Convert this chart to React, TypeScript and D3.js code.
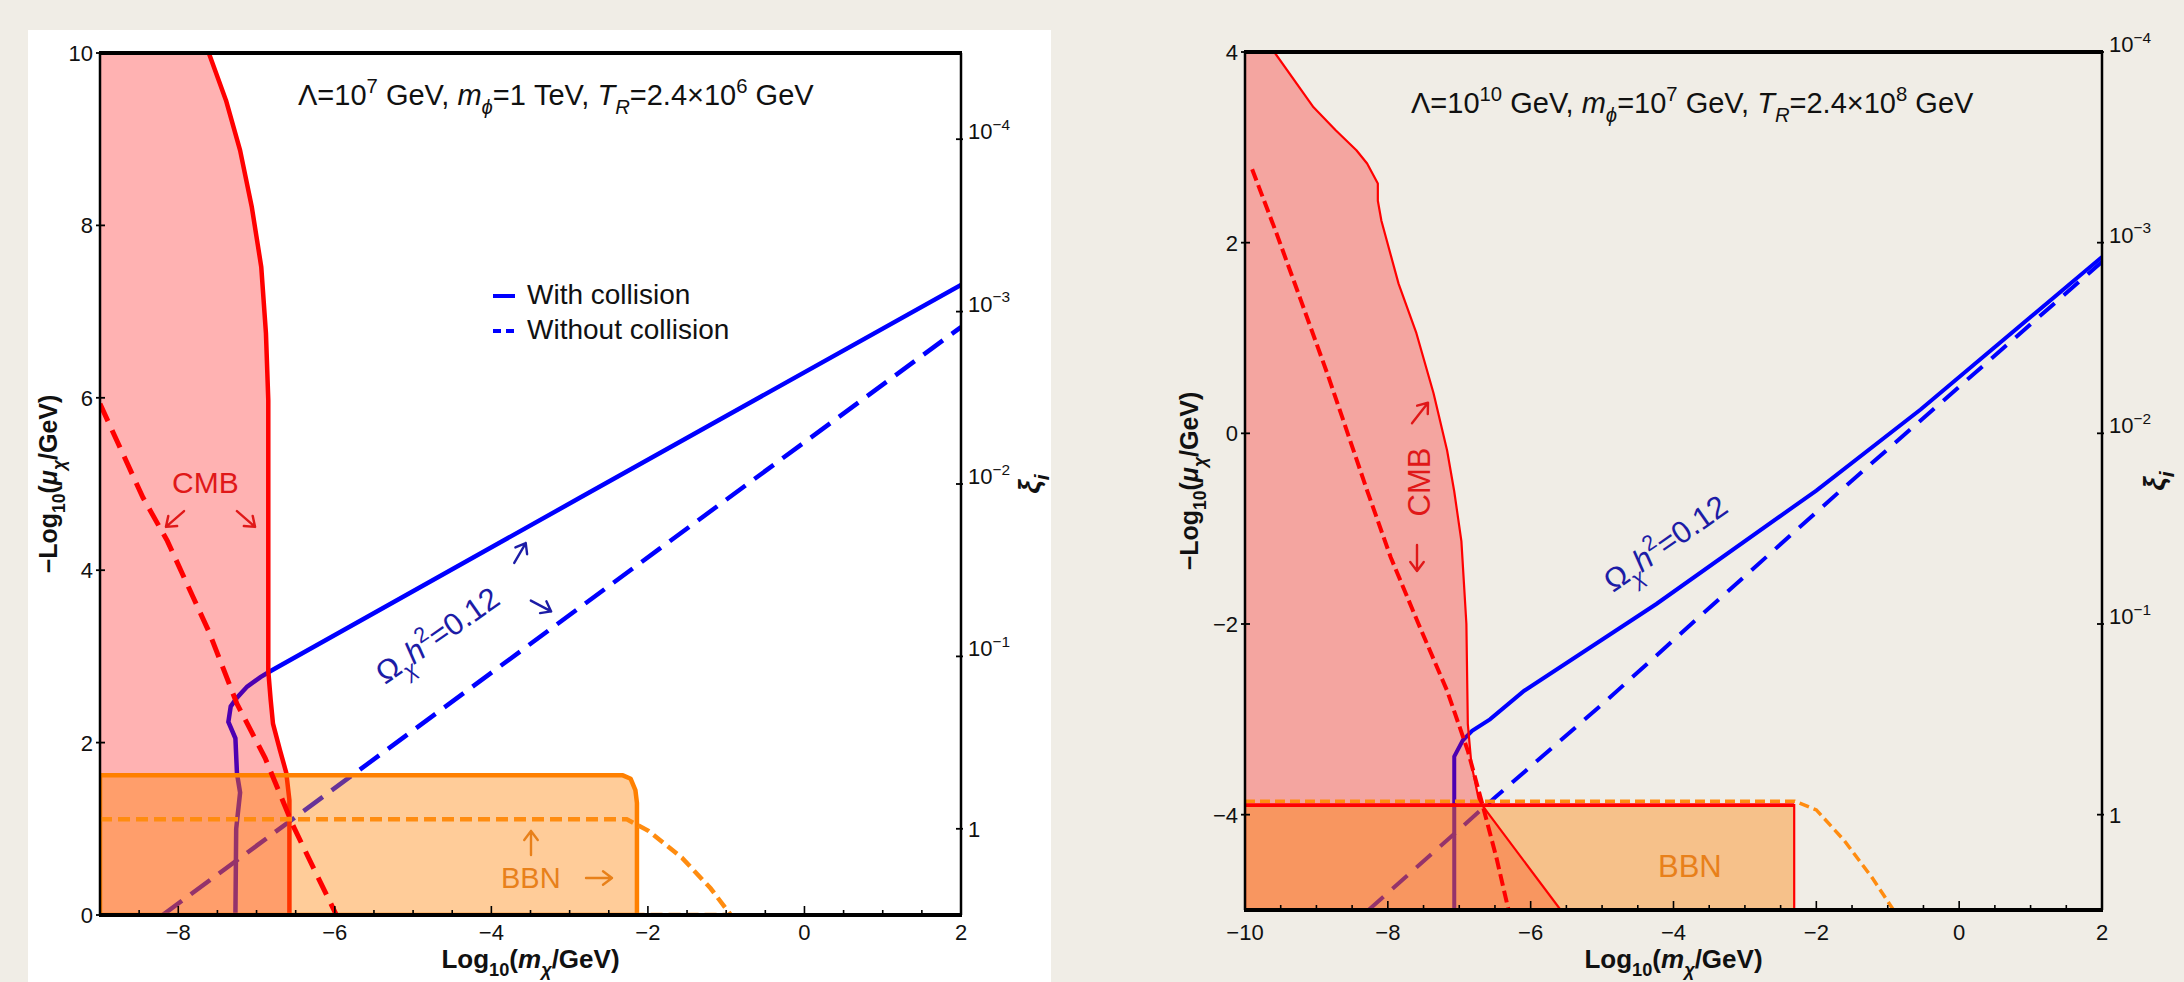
import * as d3 from 'd3';
import React, { useRef, useEffect } from 'react';

const W = 2184;
const H = 982;
const FONT = "'Liberation Sans', Arial, Helvetica, sans-serif";
const BG = '#f0ede6';

// ---------- left panel : Lambda = 10^7 GeV ----------
const xTicksL = [-8, -6, -4, -2, 0, 2];
const yTicksL = [0, 2, 4, 6, 8, 10];
const xiTicks = [1e-4, 1e-3, 1e-2, 1e-1, 1];
const xiLabels = ['\u22124', '\u22123', '\u22122', '\u22121', ''];

// CMB bound, with collision (solid red)
const cmbL = [[-7.61, 10], [-7.39, 9.45], [-7.21, 8.87], [-7.06, 8.21], [-6.94, 7.52], [-6.88, 6.75], [-6.85, 5.97],
  [-6.85, 2.83], [-6.82, 2.5], [-6.79, 2.22], [-6.70, 1.91], [-6.62, 1.65], [-6.58, 1.33], [-6.58, 0]];
// CMB bound, without collision (dashed red)
const cmbNoColL = [[-9, 5.93], [-8.45, 4.84], [-8.14, 4.34], [-7.61, 3.29], [-7.25, 2.45], [-6.89, 1.82],
  [-6.54, 1.05], [-6.27, 0.54], [-5.98, 0]];
// relic abundance Omega h^2 = 0.12
const relicL = [[-7.27, 0], [-7.26, 1.0], [-7.21, 1.42], [-7.25, 1.64], [-7.27, 2.05], [-7.36, 2.24], [-7.33, 2.42],
  [-7.25, 2.52], [-7.12, 2.65], [-6.95, 2.76], [-6.82, 2.83], [-2.87, 4.84], [2, 7.31]];
const relicNoColL = [[-8.2, 0], [-1.85, 4.25], [2, 6.82]];
// BBN bound
const bbnL = [[-9, 1.62], [-2.32, 1.62], [-2.22, 1.58], [-2.16, 1.45], [-2.14, 1.30], [-2.14, 0], [-9, 0]];
const bbnNoColL = [[-9, 1.11], [-2.27, 1.11], [-2.0, 0.98], [-1.56, 0.66], [-1.2, 0.31], [-0.94, 0], [-2.14, 0]];

// ---------- right panel : Lambda = 10^10 GeV ----------
const xTicksR = [-10, -8, -6, -4, -2, 0, 2];
const yTicksR = [-4, -2, 0, 2, 4];

const cmbR = [[-9.59, 4], [-9.04, 3.42], [-8.73, 3.18], [-8.44, 2.97], [-8.29, 2.83], [-8.14, 2.62], [-8.14, 2.44],
  [-8.09, 2.23], [-7.85, 1.57], [-7.60, 1.05], [-7.36, 0.42], [-7.17, -0.18], [-7.07, -0.61], [-6.97, -1.13],
  [-6.90, -2.0], [-6.88, -3.05], [-6.83, -3.47], [-6.73, -3.83], [-6.68, -3.90], [-5.58, -5]];
const cmbNoColR = [[-9.90, 2.77], [-9.56, 2.10], [-9.22, 1.40], [-8.83, 0.59], [-8.29, -0.6], [-7.96, -1.30],
  [-7.57, -2.0], [-7.17, -2.70], [-6.88, -3.33], [-6.68, -3.88], [-6.48, -4.45], [-6.31, -5.0]];
const relicR = [[-7.07, -5], [-7.07, -3.39], [-6.95, -3.22], [-6.82, -3.12], [-6.57, -3.0], [-6.09, -2.70],
  [-4.24, -1.79], [-2.0, -0.6], [-0.54, 0.25], [2, 1.85]];
const relicNoColR = [[-8.27, -5], [-6.5, -3.82], [-4.92, -2.79], [-3.75, -2.0], [-1.66, -0.6], [2, 1.8]];
const bbnR = [[-10, -3.9], [-2.31, -3.9], [-2.31, -5], [-10, -5]];
const bbnNoColR = [[-10, -3.86], [-2.3, -3.86], [-2.0, -3.95], [-1.61, -4.27], [-1.22, -4.66], [-0.92, -5.0]];

// text with sub/superscripts: kind = '' | 'i' | 'sub' | 'isub' | 'sup'
function rich(sel, segs, fs) {
  let shift = 0;
  segs.forEach(([t, k]) => {
    const target = k.includes('sub') ? fs * 0.3 : k.includes('sup') ? -fs * 0.42 : 0;
    const ts = sel.append('tspan').attr('dy', target - shift).text(t);
    shift = target;
    if (k.includes('sub') || k.includes('sup')) ts.attr('font-size', fs * 0.7);
    if (k.startsWith('i')) ts.attr('font-style', 'italic');
  });
}

// open arrow centred on (x, y), pointing along angle (degrees, screen coords)
function arrow(g, x, y, angle, color, len) {
  const h = len / 2;
  const a = 9;
  g.append('path')
    .attr('transform', `translate(${x},${y}) rotate(${angle})`)
    .attr('d', `M${-h},0L${h},0M${h - a},${-a * 0.75}L${h},0L${h - a},${a * 0.75}`)
    .attr('fill', 'none')
    .attr('stroke', color)
    .attr('stroke-width', 2.4)
    .attr('stroke-linecap', 'round')
    .attr('stroke-linejoin', 'round');
}

function drawPanel(svg, p) {
  const x = d3.scaleLinear().domain(p.xDomain).range([p.left, p.right]);
  const y = d3.scaleLinear().domain(p.yDomain).range([p.bottom, p.top]);
  const xi = d3.scaleLog().domain([1, 1e-4]).range([y(p.xiOne), y(p.xiOne + 8)]);
  const line = d3.line().x(d => x(d[0])).y(d => y(d[1]));

  svg.append('clipPath').attr('id', 'clip' + p.id)
    .append('rect')
    .attr('x', p.left).attr('y', p.top)
    .attr('width', p.right - p.left).attr('height', p.bottom - p.top);
  const g = svg.append('g').attr('clip-path', `url(#clip${p.id})`);

  // relic lines sit under the shaded regions
  g.append('path').attr('d', line(p.relic)).attr('fill', 'none')
    .attr('stroke', '#0000ff').attr('stroke-width', p.lw.blue);
  g.append('path').attr('d', line(p.relicNoCol)).attr('fill', 'none')
    .attr('stroke', '#0000ff').attr('stroke-width', p.lw.blue).attr('stroke-dasharray', p.dash.blue);

  const cmbLine = () => g.append('path').attr('d', line(p.cmb)).attr('fill', 'none')
    .attr('stroke', '#ff0000').attr('stroke-width', p.lw.red).attr('stroke-linejoin', 'round');

  if (p.redUnder) cmbLine();

  // CMB excluded region
  const x0 = p.xDomain[0];
  g.append('path')
    .attr('d', line([[x0, p.yDomain[1]], ...p.cmb, [x0, p.yDomain[0]]]) + 'Z')
    .attr('fill', '#ff0000').attr('fill-opacity', 0.3);
  // BBN excluded region
  g.append('path').attr('d', line(p.bbn) + 'Z')
    .attr('fill', '#ff8000').attr('fill-opacity', 0.4);

  if (p.bbnStroke === 'orange') {
    g.append('path').attr('d', line(p.bbn) + 'Z').attr('fill', 'none')
      .attr('stroke', '#ff8000').attr('stroke-width', 4.5).attr('stroke-linejoin', 'round');
  }
  g.append('path').attr('d', line(p.bbnNoCol)).attr('fill', 'none')
    .attr('stroke', '#ff8c10').attr('stroke-width', p.lw.orange).attr('stroke-dasharray', p.dash.orange);
  if (p.bbnStroke === 'red') {
    g.append('path').attr('d', line(p.bbn) + 'Z').attr('fill', 'none')
      .attr('stroke', '#ff0000').attr('stroke-width', 2.2);
    g.append('path').attr('d', line(p.bbn.slice(0, 2))).attr('fill', 'none')
      .attr('stroke', '#ff0000').attr('stroke-width', 3.8);
  }
  if (!p.redUnder) cmbLine();

  g.append('path').attr('d', line(p.cmbNoCol)).attr('fill', 'none')
    .attr('stroke', '#ff0000').attr('stroke-width', p.lw.redDash).attr('stroke-dasharray', p.dash.red);

  // frame
  const fr = svg.append('g').attr('stroke', '#000');
  fr.append('line').attr('x1', p.left - 1).attr('x2', p.right + 1).attr('y1', p.top).attr('y2', p.top).attr('stroke-width', 4);
  fr.append('line').attr('x1', p.left - 1).attr('x2', p.right + 1).attr('y1', p.bottom).attr('y2', p.bottom).attr('stroke-width', 4);
  fr.append('line').attr('x1', p.left).attr('x2', p.left).attr('y1', p.top).attr('y2', p.bottom).attr('stroke-width', 2.5);
  fr.append('line').attr('x1', p.right).attr('x2', p.right).attr('y1', p.top).attr('y2', p.bottom).attr('stroke-width', 2.5);

  // x ticks
  const minor = d3.range(p.xDomain[0], p.xDomain[1] + 0.001, 0.5);
  fr.selectAll('.mx').data(minor).enter().append('line')
    .attr('x1', d => x(d)).attr('x2', d => x(d))
    .attr('y1', p.bottom).attr('y2', d => p.bottom - (p.xTicks.includes(d) ? 9 : 5))
    .attr('stroke-width', 1.6);
  const lab = svg.append('g').attr('font-family', FONT).attr('font-size', 22).attr('fill', '#111');
  lab.selectAll('.xl').data(p.xTicks).enter().append('text')
    .attr('x', d => x(d)).attr('y', 940).attr('text-anchor', 'middle')
    .text(d => d3.format('')(d).replace('-', '\u2212'));

  // y ticks
  fr.selectAll('.my').data(p.yTicks).enter().append('line')
    .attr('x1', p.left - 4).attr('x2', p.left + 5)
    .attr('y1', d => y(d)).attr('y2', d => y(d)).attr('stroke-width', 1.8);
  lab.selectAll('.yl').data(p.yTicks).enter().append('text')
    .attr('x', p.left - 7).attr('y', d => y(d)).attr('dy', '0.36em').attr('text-anchor', 'end')
    .text(d => String(d).replace('-', '\u2212'));

  // right xi axis
  fr.selectAll('.mxi').data(xiTicks).enter().append('line')
    .attr('x1', p.right - 5).attr('x2', p.right + 2)
    .attr('y1', d => xi(d)).attr('y2', d => xi(d)).attr('stroke-width', 1.8);
  xiTicks.forEach((v, i) => {
    const t = lab.append('text').attr('x', p.right + 7).attr('y', xi(v)).attr('dy', '0.36em');
    if (v === 1) t.text('1');
    else rich(t, [['10', ''], [xiLabels[i], 'sup']], 22);
  });

  // axis titles
  const tx = svg.append('text').attr('font-family', FONT).attr('font-weight', 'bold').attr('font-size', 26)
    .attr('x', (p.left + p.right) / 2).attr('y', 968).attr('text-anchor', 'middle').attr('fill', '#111');
  rich(tx, [['Log', ''], ['10', 'sub'], ['(', ''], ['m', 'i'], ['\u03c7', 'isub'], ['/GeV)', '']], 26);

  const ty = svg.append('text').attr('font-family', FONT).attr('font-weight', 'bold').attr('font-size', 25)
    .attr('transform', `translate(${p.yTitleX},${(p.top + p.bottom) / 2}) rotate(-90)`)
    .attr('text-anchor', 'middle').attr('fill', '#111');
  rich(ty, [['\u2212Log', ''], ['10', 'sub'], ['(', ''], ['\u03bc', 'i'], ['\u03c7', 'isub'], ['/GeV)', '']], 25);

  const txi = svg.append('text').attr('font-family', FONT).attr('font-weight', 'bold').attr('font-size', 30)
    .attr('transform', `translate(${p.xiTitleX},${(p.top + p.bottom) / 2}) rotate(-90)`)
    .attr('text-anchor', 'middle').attr('fill', '#111');
  rich(txi, [['\u03be', 'i'], ['i', 'isub']], 30);

  // parameter label
  const tp = svg.append('text').attr('font-family', FONT).attr('font-size', 29).attr('fill', '#111')
    .attr('x', p.param.x).attr('y', p.param.y);
  rich(tp, p.param.segs, 29);

  // relic label
  const tr = svg.append('text').attr('font-family', FONT).attr('font-size', 31).attr('fill', '#1c1ca6')
    .attr('transform', `translate(${p.omega[0]},${p.omega[1]}) rotate(-35)`);
  rich(tr, [['\u03a9', ''], ['\u03c7', 'isub'], ['h', 'i'], ['2', 'sup'], ['=0.12', '']], 31);

  return { x, y };
}

function App() {
  const ref = useRef(null);

  useEffect(() => {
    const svg = d3.select(ref.current);
    svg.selectAll('*').remove();

    svg.append('rect').attr('width', W).attr('height', H).attr('fill', BG);
    svg.append('rect').attr('x', 28).attr('y', 30).attr('width', 1023).attr('height', H - 30).attr('fill', '#ffffff');

    drawPanel(svg, {
      id: 'L', left: 100, right: 961, top: 53, bottom: 915,
      xDomain: [-9, 2], yDomain: [0, 10], xiOne: 1,
      xTicks: xTicksL, yTicks: yTicksL,
      cmb: cmbL, cmbNoCol: cmbNoColL, relic: relicL, relicNoCol: relicNoColL, bbn: bbnL, bbnNoCol: bbnNoColL,
      redUnder: true, bbnStroke: 'orange',
      lw: { blue: 4.5, red: 4.5, redDash: 5, orange: 4.5 },
      dash: { blue: '24 11', red: '19 10', orange: '12 6' },
      yTitleX: 57, xiTitleX: 1040, omega: [385, 685],
      param: {
        x: 298, y: 105,
        segs: [['\u039b=10', ''], ['7', 'sup'], [' GeV, ', ''], ['m', 'i'], ['\u03d5', 'isub'], ['=1 TeV, ', ''],
          ['T', 'i'], ['R', 'isub'], ['=2.4\u00d710', ''], ['6', 'sup'], [' GeV', '']],
      },
    });

    drawPanel(svg, {
      id: 'R', left: 1245, right: 2102, top: 52, bottom: 910,
      xDomain: [-10, 2], yDomain: [-5, 4], xiOne: -4,
      xTicks: xTicksR, yTicks: yTicksR,
      cmb: cmbR, cmbNoCol: cmbNoColR, relic: relicR, relicNoCol: relicNoColR, bbn: bbnR, bbnNoCol: bbnNoColR,
      redUnder: false, bbnStroke: 'red',
      lw: { blue: 4, red: 2.2, redDash: 4, orange: 3.5 },
      dash: { blue: '20 12', red: '12 5', orange: '10 5' },
      yTitleX: 1198, xiTitleX: 2165, omega: [1613, 593],
      param: {
        x: 1411, y: 113,
        segs: [['\u039b=10', ''], ['10', 'sup'], [' GeV, ', ''], ['m', 'i'], ['\u03d5', 'isub'], ['=10', ''], ['7', 'sup'],
          [' GeV, ', ''], ['T', 'i'], ['R', 'isub'], ['=2.4\u00d710', ''], ['8', 'sup'], [' GeV', '']],
      },
    });

    const ann = svg.append('g').attr('font-family', FONT);
    const red = '#e01818';
    const orange = '#e8801a';
    const navy = '#1c1ca6';

    // left panel annotations
    ann.append('text').attr('x', 172).attr('y', 493).attr('font-size', 30).attr('fill', red).text('CMB');
    arrow(ann, 175, 519, 139, red, 24);
    arrow(ann, 246, 519, 41, red, 24);
    arrow(ann, 520, 553, -60, navy, 23);
    arrow(ann, 541, 606, 28, navy, 23);
    arrow(ann, 531, 843, -90, orange, 24);
    ann.append('text').attr('x', 501).attr('y', 888).attr('font-size', 29).attr('fill', orange).text('BBN');
    arrow(ann, 599, 878, 0, orange, 26);

    // legend
    ann.append('line').attr('x1', 493).attr('x2', 515).attr('y1', 296).attr('y2', 296)
      .attr('stroke', '#0000ff').attr('stroke-width', 4);
    ann.append('line').attr('x1', 493).attr('x2', 516).attr('y1', 331).attr('y2', 331)
      .attr('stroke', '#0000ff').attr('stroke-width', 4).attr('stroke-dasharray', '8 5');
    ann.append('text').attr('x', 527).attr('y', 304).attr('font-size', 28).attr('fill', '#111').text('With collision');
    ann.append('text').attr('x', 527).attr('y', 339).attr('font-size', 28).attr('fill', '#111').text('Without collision');

    // right panel annotations
    ann.append('text').attr('transform', 'translate(1430,482) rotate(-90)').attr('text-anchor', 'middle')
      .attr('font-size', 31).attr('fill', red).text('CMB');
    arrow(ann, 1420, 413, -52, red, 26);
    arrow(ann, 1417, 558, 90, red, 26);
    ann.append('text').attr('x', 1658).attr('y', 877).attr('font-size', 31).attr('fill', orange).text('BBN');
  }, []);

  return (
    <svg ref={ref} width={W} height={H} style={{ position: 'absolute', left: 0, top: 0, display: 'block' }} />
  );
}

export default App;
